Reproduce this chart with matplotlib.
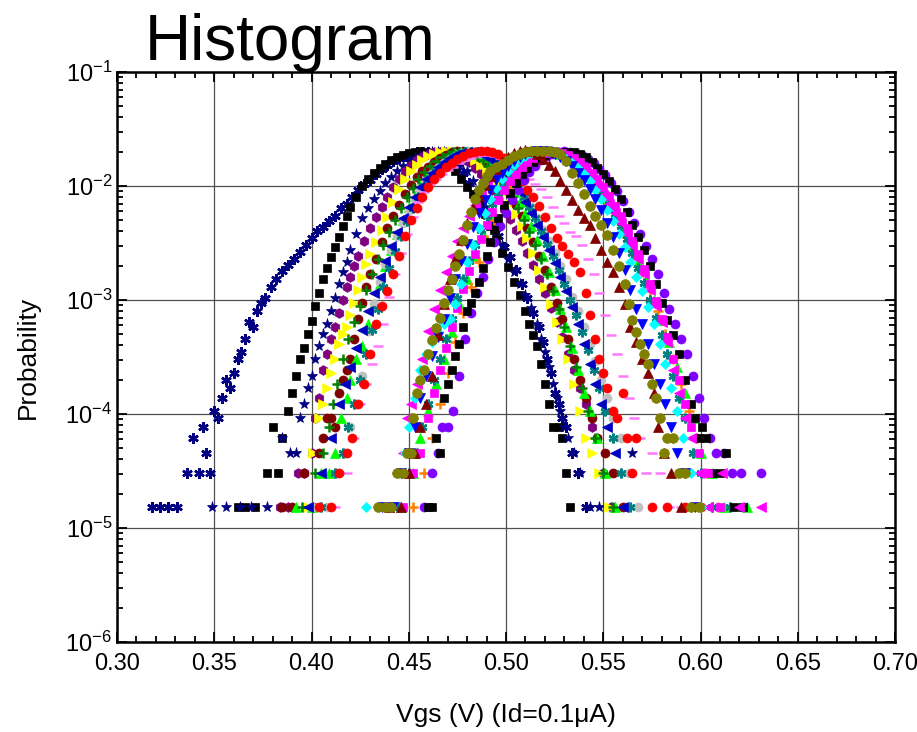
import numpy as np
import matplotlib.pyplot as plt
from matplotlib.ticker import MultipleLocator, FuncFormatter, LogLocator

plt.rcParams['font.family'] = ['Liberation Sans', 'DejaVu Sans']
plt.rcParams['mathtext.fontset'] = 'custom'
plt.rcParams['mathtext.rm'] = 'Liberation Sans'
plt.rcParams['mathtext.it'] = 'Liberation Sans:italic'
plt.rcParams['mathtext.bf'] = 'Liberation Sans:bold'

# histogram counts per bin (Vgs, count); probability = count / N_TOTAL
N_TOTAL = 65536

# ---- left group ----
navy_asterisk = [(0.318,1),(0.322,1),(0.326,1),(0.331,1),(0.336,2),(0.339,4),(0.342,2),(0.344,5),(0.346,3),(0.348,2),
    (0.350,7),(0.352,6),(0.354,9),(0.356,13),(0.358,11),(0.360,15),(0.362,20),(0.364,23),(0.366,30),(0.368,42),
    (0.370,38),(0.372,52),(0.374,62),(0.376,68),(0.379,85),(0.382,100),(0.385,118),(0.388,132),(0.391,150),(0.394,172),
    (0.397,200),(0.400,228),(0.403,262),(0.406,285),(0.409,320),(0.412,360),(0.415,420),(0.418,460),(0.421,520),(0.424,600),
    (0.427,680),(0.430,740),(0.433,840),(0.436,930),(0.439,1010),(0.442,1080),(0.445,1150),(0.448,1210),(0.451,1260),(0.454,1290),
    (0.457,1310),(0.460,1300),(0.463,1280),(0.466,1240),(0.469,1180),(0.472,1100),(0.475,980),(0.478,850),(0.481,700),(0.484,560),
    (0.487,450),(0.490,370),(0.493,300),(0.496,240),(0.499,190),(0.502,157),(0.505,120),(0.508,90),(0.511,68),(0.514,50),
    (0.517,38),(0.519,28),(0.521,20),(0.523,15),(0.525,10),(0.527,8),(0.529,6),(0.531,5),(0.534,3),(0.537,2),(0.541,1)]

black_sq_l = [(0.362,1),(0.366,1),(0.371,1),(0.377,2),(0.380,5),(0.383,2),(0.385,4),(0.388,7),(0.390,10),(0.392,14),
    (0.394,20),(0.396,25),(0.398,33),(0.400,43),(0.402,58),(0.404,75),(0.406,100),(0.408,125),(0.410,155),(0.412,190),
    (0.414,235),(0.416,290),(0.418,360),(0.420,430),(0.423,530),(0.426,650),(0.429,760),(0.432,850),(0.435,940),(0.438,1020),
    (0.441,1100),(0.444,1170),(0.447,1230),(0.450,1280),(0.453,1310),(0.456,1320),(0.459,1310),(0.462,1270),(0.465,1200),(0.468,1110),
    (0.471,1000),(0.474,880),(0.477,750),(0.480,640),(0.483,560),(0.486,460),(0.489,370),(0.492,290),(0.495,225),(0.498,170),
    (0.501,128),(0.504,95),(0.507,72),(0.510,52),(0.512,40),(0.514,32),(0.516,26),(0.518,18),(0.520,12),(0.522,8),
    (0.524,5),(0.527,5),(0.529,4),(0.531,2),(0.533,1)]

navy_star = [(0.349,1),(0.356,1),(0.363,1),(0.369,1),(0.377,1),(0.385,4),(0.389,3),(0.392,3),(0.394,6),(0.396,8),
    (0.398,11),(0.400,14),(0.402,20),(0.404,26),(0.406,33),(0.408,40),(0.410,52),(0.412,68),(0.414,90),(0.416,115),
    (0.418,140),(0.420,180),(0.423,250),(0.426,340),(0.429,420),(0.432,500),(0.435,590),(0.438,690),(0.441,790),(0.444,890),
    (0.447,990),(0.450,1080),(0.453,1150),(0.456,1210),(0.459,1260),(0.462,1300),(0.465,1310),(0.468,1290),(0.471,1240),(0.474,1160),
    (0.477,1030),(0.480,880),(0.483,720),(0.486,560),(0.489,430),(0.492,330),(0.495,260),(0.498,200),(0.501,150),(0.504,115),
    (0.507,90),(0.510,72),(0.513,56),(0.516,40),(0.518,30),(0.520,23),(0.522,17),(0.524,12),(0.526,9),(0.528,7),
    (0.530,5),(0.532,4),(0.535,3),(0.538,2),(0.543,1),(0.548,1),(0.565,3)]

purple_hex = [(0.384,1),(0.388,1),(0.393,2),(0.396,2),(0.400,3),(0.402,6),(0.404,9),(0.406,16),(0.408,22),(0.410,30),
    (0.412,38),(0.414,50),(0.416,65),(0.418,85),(0.420,105),(0.422,130),(0.424,160),(0.427,215),(0.430,280),(0.433,350),
    (0.436,430),(0.439,530),(0.442,640),(0.445,760),(0.448,880),(0.451,1000),(0.454,1100),(0.457,1180),(0.460,1250),(0.463,1290),
    (0.466,1310),(0.469,1310),(0.472,1290),(0.475,1240),(0.478,1160),(0.481,1060),(0.484,950),(0.487,830),(0.490,710),(0.493,600),
    (0.496,500),(0.499,410),(0.502,335),(0.505,270),(0.508,215),(0.511,170),(0.514,132),(0.517,100),(0.520,75),(0.523,56),
    (0.526,42),(0.529,31),(0.532,22),(0.535,16),(0.538,11),(0.541,8),(0.544,5),(0.547,4),(0.550,2),(0.554,1)]

yellow_tri = [(0.398,1),(0.401,3),(0.404,6),(0.406,8),(0.408,11),(0.410,15),(0.412,20),(0.414,27),(0.416,33),(0.418,38),
    (0.420,48),(0.422,62),(0.424,80),(0.426,105),(0.428,135),(0.430,165),(0.433,210),(0.436,270),(0.439,350),(0.442,470),
    (0.445,620),(0.448,760),(0.451,880),(0.454,1000),(0.457,1100),(0.460,1190),(0.463,1260),(0.466,1300),(0.469,1320),(0.472,1320),
    (0.475,1300),(0.478,1250),(0.481,1180),(0.484,1100),(0.487,1000),(0.490,900),(0.493,790),(0.496,680),(0.499,570),(0.502,460),
    (0.505,370),(0.508,290),(0.511,230),(0.514,170),(0.517,120),(0.520,85),(0.523,60),(0.526,42),(0.529,30),(0.532,20),
    (0.535,12),(0.538,7),(0.541,4),(0.544,3),(0.548,2),(0.553,1)]

wine_circle = [(0.385,1),(0.390,1),(0.396,2),(0.401,1),(0.404,3),(0.406,4),(0.408,6),(0.410,6),(0.412,5),(0.414,10),
    (0.416,13),(0.418,16),(0.420,20),(0.422,30),(0.424,45),(0.426,62),(0.428,85),(0.430,110),(0.433,150),(0.436,210),
    (0.439,280),(0.442,360),(0.445,450),(0.448,560),(0.451,670),(0.454,790),(0.457,880),(0.460,970),(0.463,1070),(0.466,1150),
    (0.469,1230),(0.472,1290),(0.475,1320),(0.478,1330),(0.481,1310),(0.484,1250),(0.487,1160),(0.490,1050),(0.493,930),(0.496,800),
    (0.499,680),(0.502,560),(0.505,450),(0.508,360),(0.511,280),(0.514,210),(0.517,160),(0.520,120),(0.523,85),(0.526,62),
    (0.529,45),(0.532,30),(0.535,20),(0.538,13),(0.541,9),(0.544,6),(0.547,4),(0.551,3),(0.555,2),(0.560,1)]

green_tri_l = [(0.392,1),(0.400,1),(0.405,2),(0.409,2),(0.412,3),(0.415,6),(0.418,9),(0.420,13),(0.423,20),(0.426,26),
    (0.429,40),(0.432,60),(0.435,90),(0.438,130),(0.441,180),(0.444,250),(0.447,330),(0.450,430),(0.453,540),(0.456,660),
    (0.459,780),(0.462,900),(0.465,1010),(0.468,1110),(0.471,1200),(0.474,1270),(0.477,1310),(0.480,1320),(0.483,1300),(0.486,1250),
    (0.489,1170),(0.492,1070),(0.495,950),(0.498,820),(0.501,700),(0.504,580),(0.507,470),(0.510,370),(0.513,290),(0.516,220),
    (0.519,160),(0.522,115),(0.525,80),(0.528,55),(0.531,38),(0.534,25),(0.537,16),(0.540,10),(0.543,7),(0.547,4),
    (0.551,2),(0.556,1)]

green_plus = [(0.395,1),(0.402,2),(0.406,3),(0.409,5),(0.411,8),(0.413,12),(0.416,20),(0.419,30),(0.422,42),(0.425,58),
    (0.428,80),(0.431,110),(0.434,150),(0.437,200),(0.440,260),(0.443,330),(0.446,420),(0.449,520),(0.452,630),(0.455,750),
    (0.458,870),(0.461,980),(0.464,1080),(0.467,1170),(0.470,1240),(0.473,1290),(0.476,1310),(0.479,1300),(0.482,1260),(0.485,1190),
    (0.488,1100),(0.491,990),(0.494,870),(0.497,750),(0.500,630),(0.503,520),(0.506,420),(0.509,330),(0.512,260),(0.515,200),
    (0.518,150),(0.521,110),(0.524,78),(0.527,55),(0.530,38),(0.533,26),(0.536,17),(0.539,11),(0.542,7),(0.546,4),
    (0.550,2),(0.555,1)]

gray_circle = [(0.400,1),(0.408,1),(0.413,2),(0.417,3),(0.420,5),(0.423,8),(0.426,14),(0.429,35),(0.432,60),(0.435,95),
    (0.438,135),(0.441,180),(0.444,240),(0.447,310),(0.450,400),(0.453,500),(0.456,610),(0.459,720),(0.462,830),(0.465,940),
    (0.468,1040),(0.471,1130),(0.474,1210),(0.477,1270),(0.480,1310),(0.483,1320),(0.486,1310),(0.489,1270),(0.492,1200),(0.495,1110),
    (0.498,1000),(0.501,880),(0.504,760),(0.507,640),(0.510,530),(0.513,430),(0.516,340),(0.519,270),(0.522,215),(0.525,170),
    (0.528,130),(0.531,100),(0.534,70),(0.537,52),(0.540,38),(0.543,27),(0.546,19),(0.549,13),(0.552,9),(0.555,6),
    (0.559,4),(0.563,2),(0.568,1)]

teal_x_l = [(0.405,1),(0.412,2),(0.416,3),(0.419,5),(0.422,8),(0.425,13),(0.428,22),(0.431,36),(0.434,55),(0.437,85),
    (0.440,125),(0.443,175),(0.446,240),(0.449,320),(0.452,420),(0.455,530),(0.458,650),(0.461,770),(0.464,880),(0.467,990),
    (0.470,1090),(0.473,1170),(0.476,1240),(0.479,1290),(0.482,1310),(0.485,1300),(0.488,1260),(0.491,1190),(0.494,1100),(0.497,990),
    (0.500,870),(0.503,750),(0.506,640),(0.509,530),(0.512,430),(0.515,340),(0.518,265),(0.521,205),(0.524,158),(0.527,120),
    (0.530,90),(0.533,66),(0.536,48),(0.539,34),(0.542,24),(0.545,16),(0.548,11),(0.551,7),(0.555,4),(0.559,2),(0.564,1)]

blue_left_tri = [(0.398,1),(0.405,2),(0.410,4),(0.414,8),(0.417,12),(0.420,17),(0.423,25),(0.426,36),(0.429,52),(0.432,75),
    (0.435,105),(0.438,145),(0.441,195),(0.444,260),(0.447,340),(0.450,430),(0.453,530),(0.456,640),(0.459,750),(0.462,860),
    (0.465,960),(0.468,1060),(0.471,1150),(0.474,1230),(0.477,1280),(0.480,1310),(0.483,1310),(0.486,1280),(0.489,1220),(0.492,1140),
    (0.495,1040),(0.498,930),(0.501,810),(0.504,690),(0.507,580),(0.510,470),(0.513,380),(0.516,300),(0.519,235),(0.522,180),
    (0.525,138),(0.528,104),(0.531,78),(0.534,57),(0.537,40),(0.540,27),(0.543,18),(0.546,12),(0.549,8),(0.552,5),
    (0.556,3),(0.560,1)]

pink_dash = [(0.412,1),(0.418,2),(0.422,4),(0.425,8),(0.428,12),(0.431,18),(0.434,26),(0.437,40),(0.440,70),(0.443,110),
    (0.446,170),(0.449,250),(0.452,350),(0.455,470),(0.458,580),(0.461,680),(0.464,760),(0.467,830),(0.470,900),(0.473,970),
    (0.476,1040),(0.479,1100),(0.482,1160),(0.485,1200),(0.488,1220),(0.491,1220),(0.494,1200),(0.497,1150),(0.500,1080),(0.503,1000),
    (0.506,910),(0.509,830),(0.512,750),(0.515,680),(0.518,620),(0.521,520),(0.524,430),(0.527,360),(0.530,310),(0.533,260),
    (0.536,240),(0.539,200),(0.542,150),(0.545,110),(0.548,75),(0.551,48),(0.554,32),(0.557,22),(0.560,14),(0.563,9),
    (0.566,6),(0.569,4),(0.572,2),(0.575,3),(0.579,2),(0.584,1),(0.590,1)]

red_circle = [(0.404,1),(0.410,1),(0.414,2),(0.418,3),(0.421,4),(0.424,8),(0.427,12),(0.430,22),(0.433,40),(0.436,58),
    (0.439,78),(0.442,110),(0.445,160),(0.448,240),(0.451,330),(0.454,420),(0.457,520),(0.460,640),(0.463,760),(0.466,860),
    (0.469,960),(0.472,1050),(0.475,1140),(0.478,1210),(0.481,1270),(0.484,1310),(0.487,1330),(0.490,1330),(0.493,1300),(0.496,1240),
    (0.499,1150),(0.502,1010),(0.505,860),(0.508,720),(0.511,610),(0.514,520),(0.517,440),(0.520,350),(0.523,280),(0.526,230),
    (0.529,195),(0.532,165),(0.535,140),(0.538,115),(0.541,75),(0.543,48),(0.546,30),(0.548,20),(0.550,15),(0.552,11),
    (0.555,7),(0.557,6),(0.560,10),(0.562,4),(0.565,2),(0.567,4),(0.575,1),(0.583,1),(0.592,1),(0.600,1)]

# ---- right group ----
olive_circle = [(0.434,1),(0.438,1),(0.441,1),(0.444,2),(0.447,2),(0.449,3),(0.451,3),(0.452,6),(0.454,10),(0.456,13),
    (0.458,16),(0.460,22),(0.462,29),(0.464,37),(0.466,46),(0.468,62),(0.470,80),(0.472,100),(0.474,130),(0.476,165),
    (0.478,220),(0.480,300),(0.482,390),(0.484,500),(0.486,600),(0.488,700),(0.490,800),(0.492,880),(0.495,960),(0.498,1030),
    (0.501,1110),(0.504,1190),(0.507,1260),(0.510,1300),(0.513,1330),(0.516,1340),(0.519,1340),(0.522,1330),(0.525,1300),(0.528,1240),
    (0.531,1080),(0.534,860),(0.537,700),(0.540,560),(0.543,440),(0.546,360),(0.549,300),(0.552,245),(0.555,180),(0.558,130),
    (0.561,90),(0.563,60),(0.565,44),(0.567,34),(0.569,27),(0.571,22),(0.573,18),(0.575,12),(0.577,9),(0.579,6),
    (0.581,3),(0.583,4),(0.586,4),(0.589,2),(0.592,2),(0.595,1),(0.599,1)]

wine_tri = [(0.440,1),(0.446,1),(0.450,2),(0.453,3),(0.456,5),(0.459,8),(0.462,14),(0.465,32),(0.468,60),(0.471,100),
    (0.474,150),(0.477,220),(0.480,310),(0.483,420),(0.486,540),(0.489,670),(0.492,800),(0.495,930),(0.498,1060),(0.501,1180),
    (0.504,1280),(0.507,1340),(0.510,1350),(0.513,1320),(0.516,1250),(0.519,1140),(0.522,1010),(0.525,880),(0.528,720),(0.531,600),
    (0.534,490),(0.537,400),(0.540,340),(0.543,300),(0.546,230),(0.549,180),(0.552,140),(0.555,115),(0.558,85),(0.561,60),
    (0.564,38),(0.567,28),(0.570,20),(0.573,15),(0.576,10),(0.578,5),(0.581,3),(0.585,2),(0.590,1)]

blue_down_tri = [(0.436,1),(0.442,1),(0.446,2),(0.450,3),(0.453,5),(0.456,9),(0.459,14),(0.462,21),(0.465,31),(0.468,45),
    (0.471,68),(0.474,100),(0.477,145),(0.480,205),(0.483,285),(0.486,380),(0.489,490),(0.492,610),(0.495,740),(0.498,860),
    (0.501,980),(0.504,1090),(0.507,1180),(0.510,1250),(0.513,1300),(0.516,1320),(0.519,1320),(0.522,1300),(0.525,1250),(0.528,1180),
    (0.531,1090),(0.534,980),(0.537,860),(0.540,740),(0.543,620),(0.546,500),(0.549,400),(0.552,310),(0.555,235),(0.558,170),
    (0.561,120),(0.564,80),(0.567,55),(0.570,40),(0.573,27),(0.576,18),(0.579,12),(0.582,8),(0.585,5),(0.588,3),
    (0.592,2),(0.597,1)]

cyan_diamond = [(0.428,1),(0.434,1),(0.440,1),(0.445,2),(0.448,3),(0.450,5),(0.453,9),(0.456,16),(0.459,22),(0.462,28),
    (0.465,34),(0.468,40),(0.471,45),(0.474,60),(0.477,90),(0.480,140),(0.483,200),(0.486,280),(0.489,380),(0.492,500),
    (0.495,630),(0.498,760),(0.501,890),(0.504,1010),(0.507,1120),(0.510,1210),(0.513,1270),(0.516,1310),(0.519,1320),(0.522,1310),
    (0.525,1270),(0.528,1210),(0.531,1130),(0.534,1040),(0.537,940),(0.540,830),(0.543,720),(0.546,610),(0.549,500),(0.552,400),
    (0.555,320),(0.558,250),(0.561,190),(0.564,140),(0.567,105),(0.570,78),(0.573,57),(0.576,40),(0.579,27),(0.582,18),
    (0.585,11),(0.588,7),(0.591,4),(0.595,2),(0.600,1)]

magenta_tri = [(0.440,1),(0.444,2),(0.447,3),(0.449,6),(0.451,8),(0.454,12),(0.457,20),(0.460,35),(0.463,55),(0.466,80),
    (0.469,115),(0.472,160),(0.475,215),(0.478,280),(0.481,360),(0.484,450),(0.487,550),(0.490,660),(0.493,770),(0.496,880),
    (0.499,980),(0.502,1070),(0.505,1150),(0.508,1220),(0.511,1270),(0.514,1300),(0.517,1310),(0.520,1310),(0.523,1290),(0.526,1250),
    (0.529,1190),(0.532,1120),(0.535,1040),(0.538,950),(0.541,850),(0.544,750),(0.547,650),(0.550,550),(0.553,460),(0.556,380),
    (0.559,310),(0.562,250),(0.565,195),(0.568,150),(0.571,110),(0.574,80),(0.577,58),(0.580,42),(0.583,28),(0.586,16),
    (0.589,10),(0.592,6),(0.595,4),(0.599,2),(0.604,1),(0.611,2),(0.620,1),(0.631,1)]

black_sq_r = [(0.460,1),(0.462,1),(0.464,4),(0.466,3),(0.468,9),(0.470,12),(0.472,16),(0.474,21),(0.476,27),(0.478,38),
    (0.480,53),(0.482,62),(0.484,75),(0.486,95),(0.488,125),(0.490,160),(0.492,210),(0.494,270),(0.496,340),(0.499,450),
    (0.502,570),(0.505,700),(0.508,830),(0.511,950),(0.514,1060),(0.517,1150),(0.520,1220),(0.523,1270),(0.526,1300),(0.529,1310),
    (0.532,1310),(0.535,1290),(0.538,1260),(0.541,1180),(0.544,1070),(0.547,950),(0.550,840),(0.553,730),(0.556,620),(0.559,500),
    (0.562,390),(0.565,300),(0.568,235),(0.571,180),(0.574,130),(0.577,90),(0.580,62),(0.583,44),(0.586,32),(0.589,22),
    (0.592,13),(0.595,8),(0.597,6),(0.599,4),(0.601,5),(0.603,4),(0.606,2),(0.610,2),(0.613,3),(0.617,1),(0.622,1)]

violet_circle = [(0.458,1),(0.462,2),(0.465,3),(0.467,5),(0.470,5),(0.473,7),(0.476,14),(0.479,30),(0.482,50),(0.485,75),
    (0.488,105),(0.491,150),(0.494,210),(0.497,290),(0.500,380),(0.503,490),(0.506,610),(0.509,740),(0.512,870),(0.515,990),
    (0.518,1100),(0.521,1190),(0.524,1260),(0.527,1300),(0.530,1320),(0.533,1310),(0.536,1280),(0.539,1220),(0.542,1140),(0.545,1040),
    (0.548,930),(0.551,820),(0.554,700),(0.557,590),(0.560,480),(0.563,390),(0.566,310),(0.569,250),(0.572,195),(0.575,150),
    (0.578,110),(0.581,75),(0.584,55),(0.587,40),(0.590,30),(0.593,22),(0.596,14),(0.599,9),(0.602,6),(0.605,4),
    (0.608,3),(0.612,3),(0.616,2),(0.621,2),(0.631,2)]

teal_x_r = [(0.445,1),(0.450,2),(0.454,3),(0.457,5),(0.460,8),(0.463,13),(0.466,20),(0.469,30),(0.472,45),(0.475,68),
    (0.478,100),(0.481,145),(0.484,200),(0.487,270),(0.490,360),(0.493,460),(0.496,570),(0.499,690),(0.502,810),(0.505,920),
    (0.508,1030),(0.511,1130),(0.514,1210),(0.517,1270),(0.520,1310),(0.523,1320),(0.526,1300),(0.529,1260),(0.532,1190),(0.535,1100),
    (0.538,1000),(0.541,890),(0.544,780),(0.547,670),(0.550,560),(0.553,460),(0.556,370),(0.559,290),(0.562,225),(0.565,170),
    (0.568,125),(0.571,92),(0.574,66),(0.577,46),(0.580,32),(0.583,22),(0.586,14),(0.589,9),(0.592,6),(0.596,3),
    (0.600,2),(0.606,1),(0.615,1)]

magenta_sq = [(0.447,1),(0.452,2),(0.456,3),(0.460,6),(0.463,10),(0.466,16),(0.469,25),(0.472,38),(0.475,56),(0.478,82),
    (0.481,118),(0.484,165),(0.487,225),(0.490,300),(0.493,390),(0.496,490),(0.499,600),(0.502,720),(0.505,840),(0.508,960),
    (0.511,1070),(0.514,1160),(0.517,1230),(0.520,1280),(0.523,1310),(0.526,1310),(0.529,1280),(0.532,1230),(0.535,1160),(0.538,1070),
    (0.541,970),(0.544,860),(0.547,750),(0.550,640),(0.553,540),(0.556,440),(0.559,355),(0.562,280),(0.565,215),(0.568,165),
    (0.571,122),(0.574,90),(0.577,64),(0.580,45),(0.583,31),(0.586,20),(0.589,13),(0.592,8),(0.595,5),(0.599,3),
    (0.604,2),(0.610,1)]

orange_plus = [(0.452,1),(0.458,2),(0.462,4),(0.466,8),(0.470,15),(0.474,28),(0.478,50),(0.482,85),(0.486,140),(0.490,220),
    (0.494,330),(0.498,470),(0.502,630),(0.506,800),(0.510,960),(0.514,1100),(0.518,1220),(0.522,1290),(0.526,1300),(0.530,1260),
    (0.534,1160),(0.538,1020),(0.542,870),(0.546,710),(0.550,560),(0.554,430),(0.558,320),(0.562,235),(0.566,165),(0.570,115),
    (0.574,78),(0.578,52),(0.582,33),(0.586,20),(0.590,12),(0.594,7),(0.598,4),(0.603,2),(0.609,1)]

green_tri_r = [(0.446,1),(0.452,2),(0.456,4),(0.460,7),(0.464,12),(0.468,20),(0.472,34),(0.476,60),(0.480,100),(0.484,160),
    (0.488,250),(0.492,370),(0.496,520),(0.500,680),(0.504,850),(0.508,1010),(0.512,1150),(0.516,1250),(0.520,1300),(0.524,1300),
    (0.528,1250),(0.532,1160),(0.536,1040),(0.540,890),(0.544,740),(0.548,600),(0.552,470),(0.556,360),(0.560,270),(0.564,195),
    (0.568,140),(0.572,98),(0.576,66),(0.580,44),(0.584,28),(0.588,17),(0.592,10),(0.596,6),(0.600,3),(0.606,2),
    (0.612,1),(0.624,1)]

asterisk = (6, 2, 0)
series = [
    (navy_asterisk, '#000080', asterisk, 7.5),
    (black_sq_l, 'black', 's', 5.5),
    (navy_star, '#000080', '*', 8),
    (purple_hex, '#800080', 'h', 7),
    (yellow_tri, '#FFFF00', '>', 6.5),
    (wine_circle, '#800000', 'o', 6.5),
    (green_tri_l, '#00FF00', '^', 6.5),
    (green_plus, '#008000', '+', 7),
    (gray_circle, '#C0C0C0', 'o', 6.5),
    (teal_x_l, '#008080', asterisk, 7),
    (blue_left_tri, '#0000C0', '<', 6.5),
    (pink_dash, '#FF77FF', '_', 7),
    (red_circle, '#FF0000', 'o', 6.5),
    (green_tri_r, '#00FF00', '^', 6.5),
    (orange_plus, '#FF8000', '+', 7),
    (teal_x_r, '#008080', asterisk, 7),
    (violet_circle, '#8000FF', 'o', 6.5),
    (black_sq_r, 'black', 's', 5.5),
    (magenta_sq, '#FF00FF', 's', 5.5),
    (magenta_tri, '#FF00FF', '<', 6.5),
    (cyan_diamond, '#00FFFF', 'D', 5.5),
    (blue_down_tri, '#0000FF', 'v', 6.5),
    (wine_tri, '#800000', '^', 6.5),
    (olive_circle, '#808000', 'o', 7),
]

fig = plt.figure(figsize=(9.17, 7.32), dpi=100)
ax = fig.add_axes([117/917, 90/732, 778/917, 570/732])

for data, color, marker, ms in series:
    vgs, counts = zip(*data)
    prob = np.array(counts) / N_TOTAL
    mew = 1.8 if marker in ('+', '_', asterisk) else 0.5
    ax.plot(vgs, prob, linestyle='none', marker=marker, ms=ms,
            color=color, mec=color, mew=mew, zorder=3)

ax.set_yscale('log')
ax.set_xlim(0.30, 0.70)
ax.set_ylim(1e-6, 1e-1)
ax.xaxis.set_major_locator(MultipleLocator(0.05))
ax.xaxis.set_minor_locator(MultipleLocator(0.01))
ax.xaxis.set_major_formatter(FuncFormatter(lambda v, pos: '%.2f' % v))
ax.yaxis.set_major_locator(LogLocator(base=10, numticks=10))
ax.yaxis.set_minor_locator(LogLocator(base=10, subs=np.arange(2, 10), numticks=10))
ax.yaxis.set_major_formatter(FuncFormatter(lambda v, pos: r'$\mathregular{10^{%d}}$' % round(np.log10(v))))

ax.tick_params(which='both', direction='in', top=True, right=True, width=1.3, labelsize=17)
ax.tick_params(which='major', length=7)
ax.tick_params(which='minor', length=4)
ax.tick_params(axis='x', pad=8)
for sp in ax.spines.values():
    sp.set_linewidth(1.8)
ax.grid(True, which='major', color='#505050', linewidth=0.9, zorder=1)
ax.set_axisbelow(True)

ax.set_xlabel(u'Vgs (V) (Id=0.1\u03bcA)', fontsize=19, labelpad=20)
ax.set_ylabel('Probability', fontsize=19, labelpad=18)
fig.text(145/917, 1 - 60/732, 'Histogram', fontsize=46, va='baseline', ha='left')

fig.savefig('out.png', dpi=100)
